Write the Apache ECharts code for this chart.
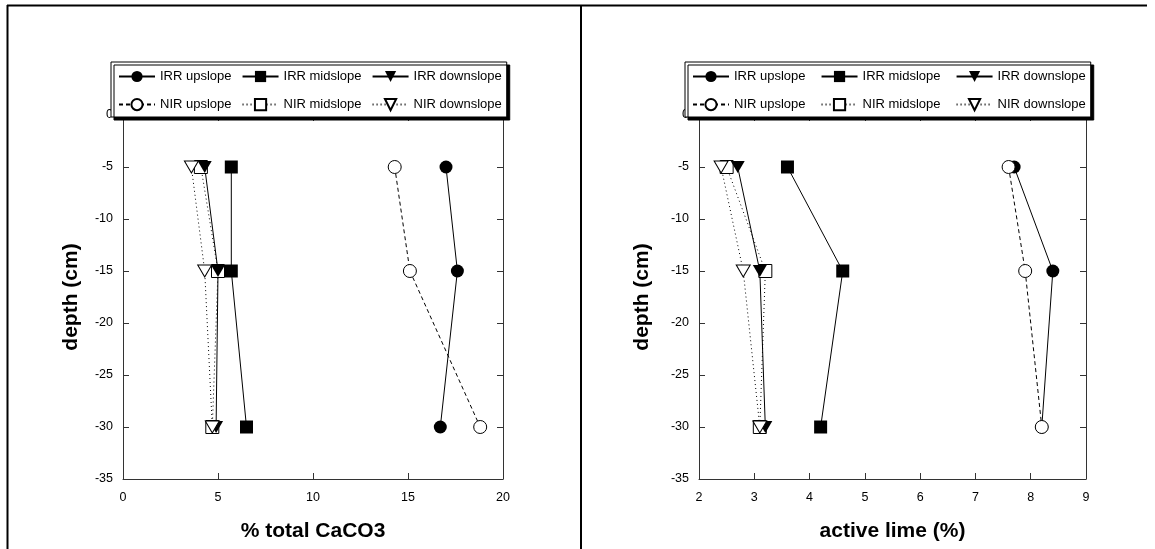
<!DOCTYPE html>
<html>
<head>
<meta charset="utf-8">
<script src="https://cdn.jsdelivr.net/npm/echarts@6/dist/echarts.min.js"></script>
<style>
html,body{margin:0;padding:0;background:#fff;}
#chart{width:1155px;height:549px;}
</style>
</head>
<body>
<div id="chart"></div>
<script>
// ---- data ----
var depths = [-5, -15, -30];
var seriesNames = ['IRR upslope', 'NIR upslope', 'IRR midslope', 'NIR midslope', 'IRR downslope', 'NIR downslope'];
var legendRow1 = ['IRR upslope', 'IRR midslope', 'IRR downslope'];
var legendRow2 = ['NIR upslope', 'NIR midslope', 'NIR downslope'];

// % total CaCO3 (left panel)
var caco3_IRR_up   = [17.0, 17.6, 16.7];
var caco3_NIR_up   = [14.3, 15.1, 18.8];
var caco3_IRR_mid  = [5.7, 5.7, 6.5];
var caco3_NIR_mid  = [4.1, 5.0, 4.7];
var caco3_IRR_down = [4.3, 5.0, 4.9];
var caco3_NIR_down = [3.6, 4.3, 4.7];

// active lime (%) (right panel)
var lime_IRR_up   = [7.7, 8.4, 8.2];
var lime_NIR_up   = [7.6, 7.9, 8.2];
var lime_IRR_mid  = [3.6, 4.6, 4.2];
var lime_NIR_mid  = [2.5, 3.2, 3.1];
var lime_IRR_down = [2.7, 3.1, 3.2];
var lime_NIR_down = [2.4, 2.8, 3.1];

var leftXTitle = '% total CaCO3';
var rightXTitle = 'active lime (%)';
var yTitle = 'depth (cm)';
var leftXRange = [0, 20, 5];
var rightXRange = [2, 9, 1];
var yRange = [-35, 0, 5];

// ---- styles ----
var FONT = '"Liberation Sans", Arial, sans-serif';
var AX = '#333';
var downTri = 'path://M0,0L14,0L7,12Z';
var styles = {
  'IRR upslope':   {symbol: 'circle', size: 13, filled: true,  line: 'solid'},
  'NIR upslope':   {symbol: 'circle', size: 13, filled: false, line: [4, 3]},
  'IRR midslope':  {symbol: 'rect',   size: 13, filled: true,  line: 'solid'},
  'NIR midslope':  {symbol: 'rect',   size: 13, filled: false, line: [1, 3]},
  'IRR downslope': {symbol: downTri,  size: [14, 12], filled: true,  line: 'solid'},
  'NIR downslope': {symbol: downTri,  size: [14, 12], filled: false, line: [1, 3]}
};

var leftData = {
  'IRR upslope': caco3_IRR_up, 'NIR upslope': caco3_NIR_up,
  'IRR midslope': caco3_IRR_mid, 'NIR midslope': caco3_NIR_mid,
  'IRR downslope': caco3_IRR_down, 'NIR downslope': caco3_NIR_down
};
var rightData = {
  'IRR upslope': lime_IRR_up, 'NIR upslope': lime_NIR_up,
  'IRR midslope': lime_IRR_mid, 'NIR midslope': lime_NIR_mid,
  'IRR downslope': lime_IRR_down, 'NIR downslope': lime_NIR_down
};

function makeSeries(dataMap, axisIdx) {
  return seriesNames.map(function (name) {
    var st = styles[name];
    var vals = dataMap[name];
    return {
      name: name,
      type: 'line',
      xAxisIndex: axisIdx,
      yAxisIndex: axisIdx,
      data: vals.map(function (v, i) { return [v, depths[i]]; }),
      symbol: st.symbol,
      symbolSize: st.size,
      showAllSymbol: true,
      itemStyle: st.filled
        ? {color: '#000', borderColor: '#000', borderWidth: 0}
        : {color: '#fff', borderColor: '#000', borderWidth: 1},
      lineStyle: {color: '#000', width: 1, type: st.line},
      emphasis: {disabled: true},
      animation: false
    };
  });
}

function xAxes(gridIndex, range, title) {
  return [{
    type: 'value', gridIndex: gridIndex, position: 'bottom',
    min: range[0], max: range[1], interval: range[2],
    axisLine: {show: true, onZero: false, lineStyle: {color: AX, width: 1}},
    axisTick: {show: true, inside: true, length: 6, lineStyle: {color: AX}},
    axisLabel: {color: '#000', fontSize: 12.5, fontFamily: FONT, margin: 12},
    splitLine: {show: false},
    name: title, nameLocation: 'middle', nameGap: 42,
    nameTextStyle: {fontSize: 21, fontWeight: 'bold', color: '#000', fontFamily: FONT}
  }, {
    type: 'value', gridIndex: gridIndex, position: 'top',
    min: range[0], max: range[1], interval: range[2],
    axisLine: {show: true, onZero: false, lineStyle: {color: AX, width: 1}},
    axisTick: {show: true, inside: true, length: 6, lineStyle: {color: AX}},
    axisLabel: {show: false},
    splitLine: {show: false}
  }];
}
function yAxes(gridIndex, gap) {
  return [{
    type: 'value', gridIndex: gridIndex, position: 'left',
    min: yRange[0], max: yRange[1], interval: yRange[2],
    axisLine: {show: true, onZero: false, lineStyle: {color: AX, width: 1}},
    axisTick: {show: true, inside: true, length: 6, lineStyle: {color: AX}},
    axisLabel: {color: '#000', fontSize: 12.5, fontFamily: FONT, margin: 10},
    splitLine: {show: false},
    name: yTitle, nameLocation: 'middle', nameGap: gap,
    nameTextStyle: {fontSize: 21, fontWeight: 'bold', color: '#000', fontFamily: FONT}
  }, {
    type: 'value', gridIndex: gridIndex, position: 'right',
    min: yRange[0], max: yRange[1], interval: yRange[2],
    axisLine: {show: true, onZero: false, lineStyle: {color: AX, width: 1}},
    axisTick: {show: true, inside: true, length: 6, lineStyle: {color: AX}},
    axisLabel: {show: false},
    splitLine: {show: false}
  }];
}

function legendPair(left, gap) {
  var common = {
    orient: 'horizontal', itemWidth: 36, itemHeight: 14, itemGap: gap,
    textStyle: {fontSize: 13, color: '#000', fontFamily: FONT},
    selectedMode: false
  };
  return [
    Object.assign({}, common, {
      left: left, top: 62, padding: [8, 5, 34, 7], data: legendRow1,
      backgroundColor: '#fff', borderColor: '#000', borderWidth: 1,
      shadowColor: '#000', shadowOffsetX: 3, shadowOffsetY: 3, shadowBlur: 0, z: 5
    }),
    Object.assign({}, common, {
      left: left, top: 90, padding: [8, 5, 0, 7], data: legendRow2, z: 6
    })
  ];
}

var chart = echarts.init(document.getElementById('chart'), null, {renderer: 'canvas'});
chart.setOption({
  animation: false,
  backgroundColor: '#fff',
  grid: [
    {left: 123, top: 115, width: 380, height: 364},
    {left: 699, top: 115, width: 387, height: 364}
  ],
  xAxis: xAxes(0, leftXRange, leftXTitle).concat(xAxes(1, rightXRange, rightXTitle)),
  yAxis: yAxes(0, 41).concat(yAxes(1, 46)),
  legend: legendPair(111, 10).concat(legendPair(685, 15)),
  series: makeSeries(leftData, 0).concat(makeSeries(rightData, 2)),
  graphic: [
    {type: 'line', shape: {x1: 7, y1: 5.5, x2: 1147, y2: 5.5}, style: {stroke: '#000', lineWidth: 2}, silent: true},
    {type: 'line', shape: {x1: 7.5, y1: 5, x2: 7.5, y2: 549}, style: {stroke: '#000', lineWidth: 2}, silent: true},
    {type: 'line', shape: {x1: 581, y1: 5, x2: 581, y2: 549}, style: {stroke: '#000', lineWidth: 2}, silent: true}
  ]
});
</script>
</body>
</html>
